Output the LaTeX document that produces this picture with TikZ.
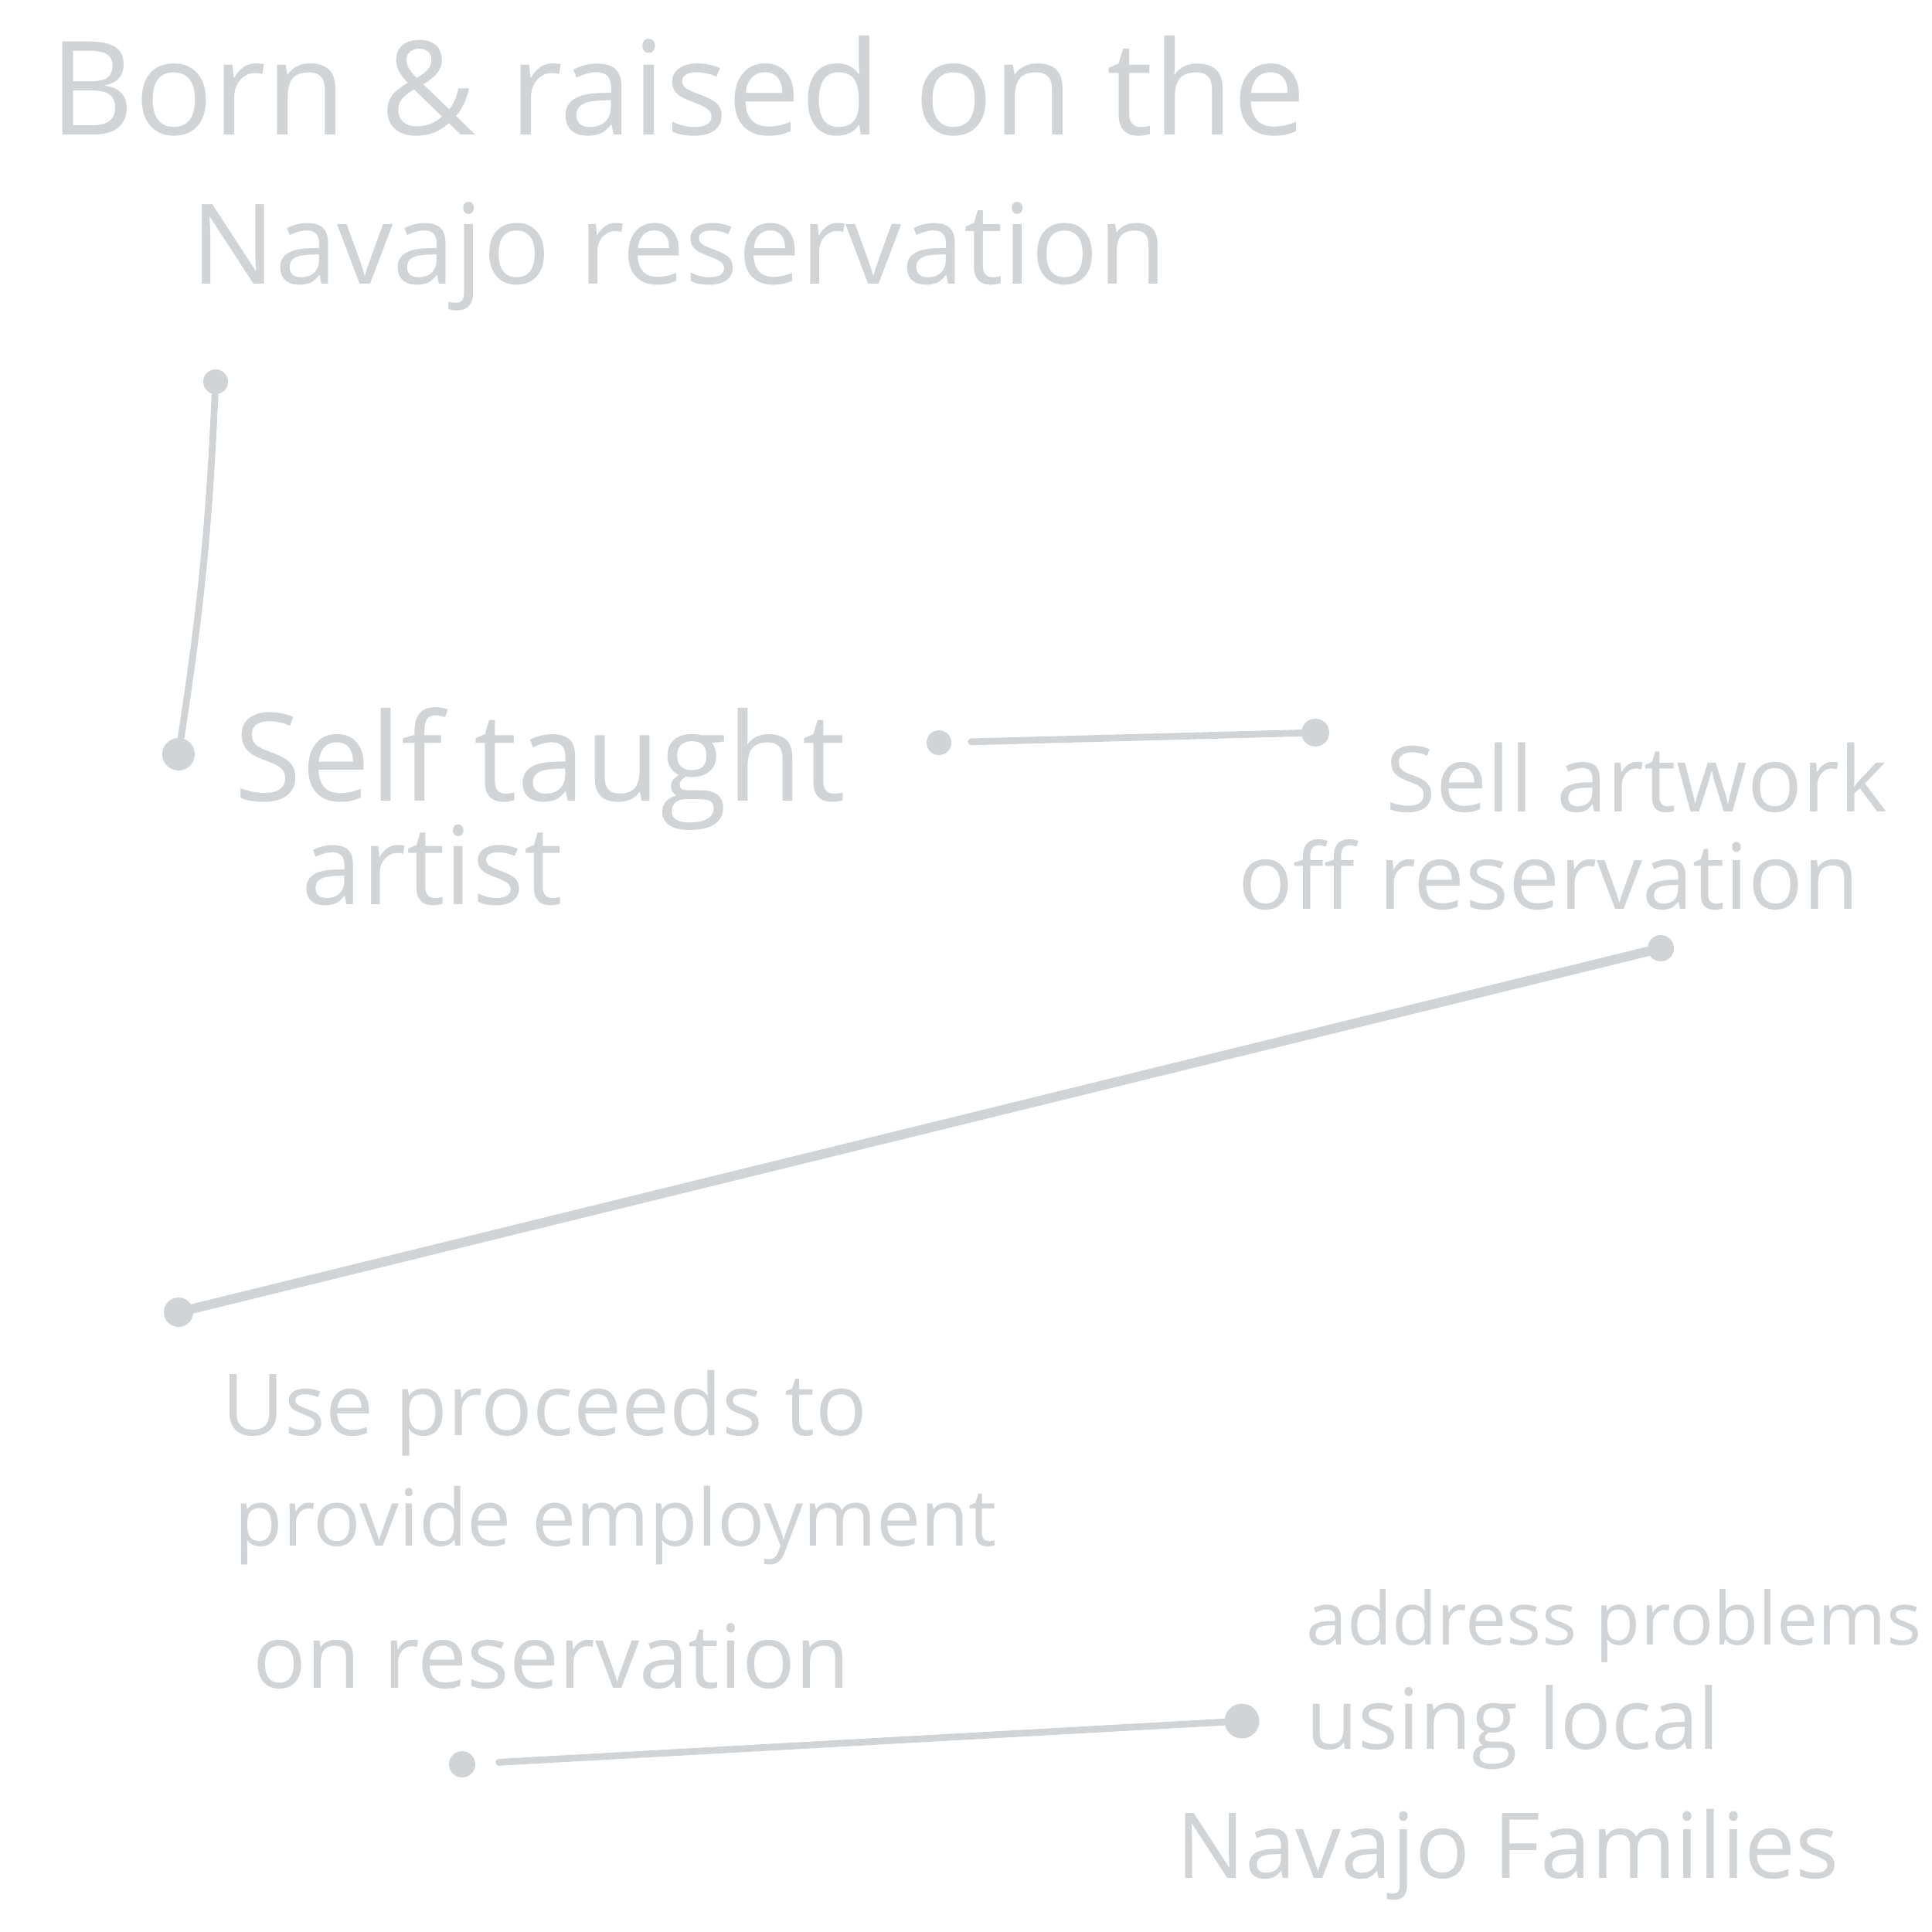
\documentclass[tikz,border=0pt]{standalone}
\usepackage{fontspec}
\setmainfont{Open Sans}
\usetikzlibrary{positioning}
\definecolor{inkgray}{HTML}{D1D4D7}
\newcommand{\handsize}[1]{\fontsize{#1}{#1}\selectfont}

\tikzset{
  hand/.style={anchor=base west, inner sep=0pt, text=inkgray},
  knob/.style={circle, fill=inkgray, inner sep=0pt, minimum size=#1},
  knob/.default=0.34cm,
  ink/.style={draw=inkgray, line width=2.5pt, line cap=round}
}

\begin{document}
\begin{tikzpicture}
  \useasboundingbox (0,0) rectangle (25,-25);

  % Born & raised
  \node[hand, font=\handsize{48}] (born) at (0.64,-1.75) {Born \& raised on the};
  \node[hand, font=\handsize{41}] (navajo) at (2.47,-3.67) {Navajo reservation};

  % Self taught artist
  \node[knob=0.32cm] (d1) at (2.79,-4.94) {};
  \node[knob=0.42cm] (d2) at (2.31,-9.76) {};
  \node[hand, font=\handsize{45}] (self) at (3.03,-10.36) {Self taught};
  \node[hand, font=\handsize{40}] (artist) at (3.90,-11.70) {artist};
  \draw[ink] (d1) to[bend left=3] (d2);

  % Sell artwork
  \node[knob=0.32cm] (d3) at (12.15,-9.61) {};
  \node[knob=0.36cm] (d4) at (17.02,-9.48) {};
  \node[hand, font=\handsize{33.5}] (sell) at (17.93,-10.50) {Sell artwork};
  \node[hand, font=\handsize{33.5}] (off) at (16.02,-11.76) {off reservation};
  \draw[ink, shorten <=0.25cm] (d3) -- (d4);

  % Use proceeds
  \node[knob=0.34cm] (d5) at (21.49,-12.27) {};
  \node[knob=0.38cm] (d6) at (2.31,-16.98) {};
  \draw[ink, line width=3.5pt] (d5) -- (d6);
  \node[hand, font=\handsize{31.5}] (use) at (2.87,-18.57) {Use proceeds to};
  \node[hand, font=\handsize{29}] (provide) at (3.03,-20.00) {provide employment};
  \node[hand, font=\handsize{32.5}] (onres) at (3.27,-21.84) {on reservation};

  % Address problems
  \node[knob=0.34cm] (d7) at (5.98,-22.83) {};
  \node[knob=0.45cm] (d8) at (16.07,-22.27) {};
  \draw[ink, shorten <=0.3cm] (d7) -- (d8);
  \node[hand, font=\handsize{27}] (address) at (16.90,-21.28) {address problems};
  \node[hand, font=\handsize{31}] (using) at (16.90,-22.63) {using local};
  \node[hand, font=\handsize{33.5}] (families) at (15.22,-24.30) {Navajo Families};
\end{tikzpicture}
\end{document}
